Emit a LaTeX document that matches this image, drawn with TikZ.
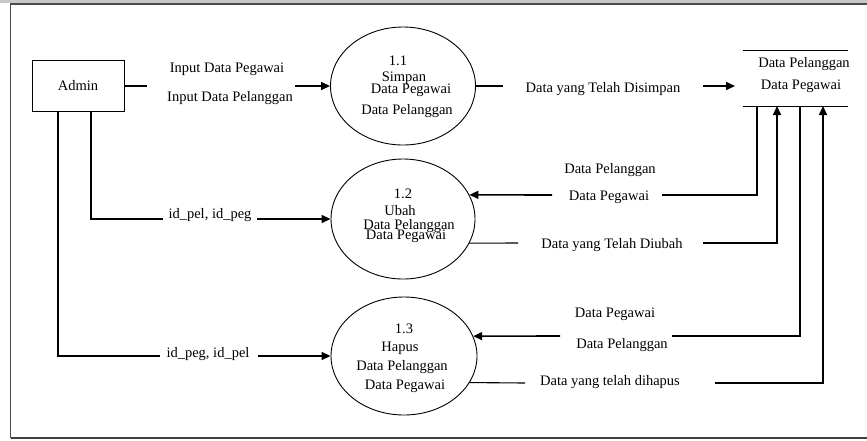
\documentclass[tikz,border=0pt]{standalone}
\usepackage{fontspec}
\setmainfont{Liberation Serif}
\usetikzlibrary{arrows.meta,shapes.geometric}
\begin{document}
\begin{tikzpicture}[x=1pt,y=-1pt,
  txt/.style={font=\fontsize{14.5}{17}\selectfont, inner sep=0pt, anchor=base},
  proc/.style={ellipse, draw, line width=0.9pt, inner sep=0pt},
  lnthin/.style={line width=1.1pt},
  lnthick/.style={line width=1.6pt},
  arr/.style={line width=1.6pt, -{Triangle[length=9pt,width=8pt]}}
]
\useasboundingbox (0,0) rectangle (867,440);
% frame
\fill[black!22] (0,0) rectangle (867,2.5);
\draw[black!70, line width=1.8pt] (10.5,438) -- (10.5,4) -- (867,4);
\draw[black!75, line width=1.5pt] (10.5,438) -- (867,438);

% entities
\node[draw, line width=0.9pt, minimum width=92pt, minimum height=51pt, inner sep=0pt,
      font=\fontsize{14.5}{17}\selectfont] (admin) at (78,86) {Admin};
\node[proc, minimum width=145pt, minimum height=118pt] (p11) at (403,86) {};
\node[proc, minimum width=144pt, minimum height=120pt] (p12) at (403,219) {};
\node[proc, minimum width=146pt, minimum height=118pt] (p13) at (404,356) {};
\node[minimum width=104pt, minimum height=55pt, inner sep=0pt] (store) at (795.5,78.5) {};
\draw[lnthin] (store.north west) -- (store.north east);
\draw[lnthin] (store.south west) -- (store.south east);

% process texts
\node[txt] (p11a) at (398,65) {1.1};
\node[txt] (p11b) at (404,81) {Simpan};
\node[txt] (p11c) at (411,93) {Data Pegawai};
\node[txt] (p11d) at (407,114) {Data Pelanggan};
\node[txt] (p12a) at (403,198) {1.2};
\node[txt] (p12b) at (400,215) {Ubah};
\node[txt] (p12c) at (409,229) {Data Pelanggan};
\node[txt] (p12d) at (406,239) {Data Pegawai};
\node[txt] (p13a) at (404,333) {1.3};
\node[txt] (p13b) at (400,351) {Hapus};
\node[txt] (p13c) at (402,370) {Data Pelanggan};
\node[txt] (p13d) at (405,389) {Data Pegawai};
\node[txt] (st1) at (804,67) {Data Pelanggan};
\node[txt] (st2) at (801,89) {Data Pegawai};

% flow labels
\node[txt] (l1) at (227,72) {Input Data Pegawai};
\node[txt] (l2) at (230,101) {Input Data Pelanggan};
\node[txt] (l3) at (603,92) {Data yang Telah Disimpan};
\node[txt] (l4) at (610,173) {Data Pelanggan};
\node[txt] (l5) at (609,200) {Data Pegawai};
\node[txt] (l6) at (210,218) {id\_pel, id\_peg};
\node[txt] (l7) at (612,248) {Data yang Telah Diubah};
\node[txt] (l8) at (615,317) {Data Pegawai};
\node[txt] (l9) at (622,348) {Data Pelanggan};
\node[txt] (l10) at (610,385) {Data yang telah dihapus};
\node[txt] (l11) at (208,357) {id\_peg, id\_pel};

% connector points
\coordinate (a1) at (147,86);  \coordinate (a2) at (295,86);
\coordinate (b1) at (503,86);  \coordinate (b2) at (703,86); \coordinate (b3) at (735,86);
\coordinate (s1) at (757,106); \coordinate (s2) at (777,106);
\coordinate (s3) at (800,106); \coordinate (s4) at (823,106);
\coordinate (c1) at (662,195); \coordinate (c2) at (552,195);
\coordinate (d1) at (518,243); \coordinate (d2) at (703,243);
\coordinate (e1) at (672,336); \coordinate (e2) at (560,336);
\coordinate (f1) at (525,383); \coordinate (f2) at (715,383);
\coordinate (g1) at (163,219); \coordinate (g2) at (257,219);
\coordinate (h1) at (160,356); \coordinate (h2) at (258,356);

% connectors
\draw[lnthin] (admin.east) -- (a1);
\draw[arr] (a2) -- (p11.west);
\draw[lnthin] (p11.east) -- (b1);
\draw[arr] (b2) -- (b3);
\draw[lnthin] (s1) |- (c1);
\draw[arr] (c2) -- (p12.20);
\draw[lnthin] (p12.-20) -- (d1);
\draw[arr] (d2) -| (s2);
\draw[lnthick] (s3) |- (e1);
\draw[arr] (e2) -- (p13.16);
\draw[lnthin] (p13.-22) -- (f1);
\draw[arr] (f2) -| (s4);
\draw[lnthick] ([xshift=13pt]admin.south) |- (g1);
\draw[arr] (g2) -- (p12.west);
\draw[lnthick] ([xshift=-20pt]admin.south) |- (h1);
\draw[arr] (h2) -- (p13.west);
\end{tikzpicture}
\end{document}
